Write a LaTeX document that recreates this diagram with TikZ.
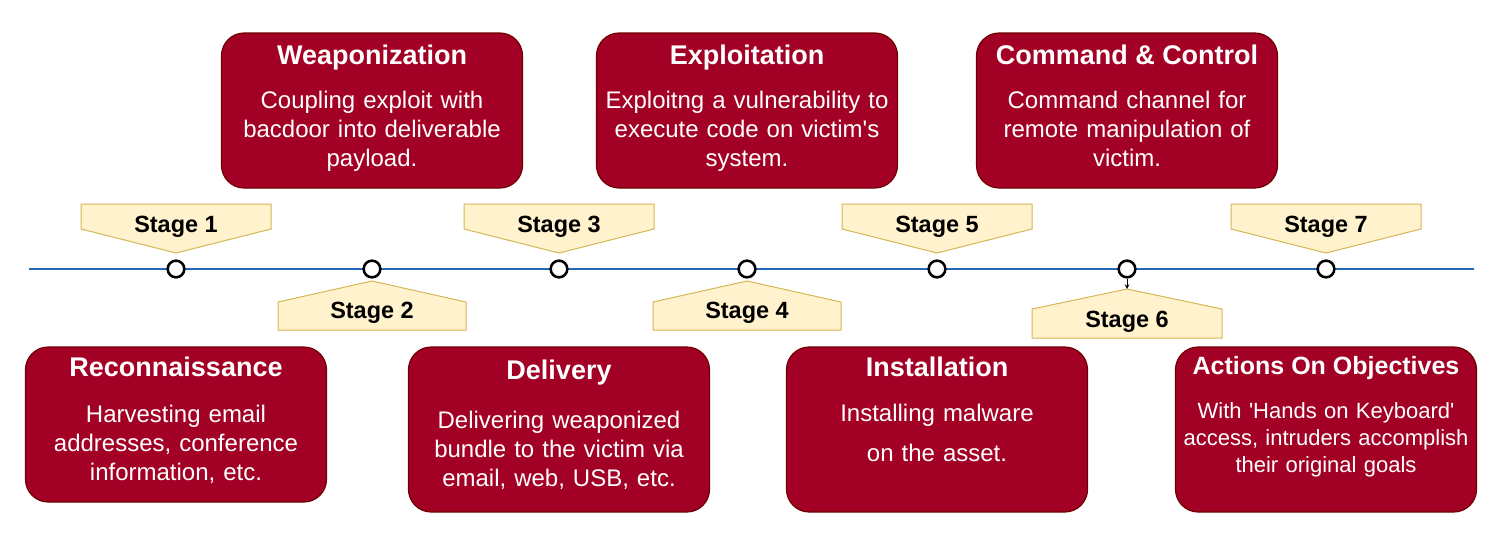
\documentclass[tikz,border=0pt]{standalone}
\usepackage{fontspec}
\setmainfont{Liberation Sans}
\usetikzlibrary{calc}

\definecolor{boxred}{HTML}{A20025}
\definecolor{boxedge}{HTML}{6F0000}
\definecolor{tagfill}{HTML}{FFF2CC}
\definecolor{tagedge}{HTML}{D6B656}
\definecolor{lineblue}{HTML}{2468B8}

\begin{document}
\begin{tikzpicture}[>=stealth, x=0.75pt, y=-0.75pt,
    dot/.style={circle, draw=black, line width=1.9pt, fill=white, minimum size=12.5pt, inner sep=0pt},
    tag/.style={fill=tagfill, draw=tagedge, line width=0.75pt},
    tagtext/.style={anchor=base, font=\bfseries\fontsize{17.6}{20}\selectfont},
    redbox/.style={fill=boxred, draw=boxedge, line width=0.9pt, rounded corners=17pt, minimum width=225.75pt, minimum height=116.25pt},
    boxtitle/.style={anchor=base, text=white, font=\bfseries\fontsize{20.25}{24}\selectfont},
    boxbody/.style={anchor=base, text=white, align=center, text width=217pt, font=\fontsize{18}{21.75}\selectfont}]

        \useasboundingbox (0,0) rectangle (1498,547);

        % Timeline
        \coordinate (lstart) at (29,269);
        \coordinate (lend) at (1474,269);
        \draw[lineblue, line width=1.9pt] (lstart) -- (lend);

        % Stage markers
        \foreach \i/\x in {1/176,2/372,3/559,4/747,5/937,6/1127,7/1326}
            \node[dot] (s\i) at (\x,269) {};

        % Stage tags above the line
        \foreach \i in {1,3,5,7} {
            \draw[tag] ($(s\i)+(0,-16)$) -- ++(-95,-24) -- ++(0,-25) -- ++(190,0) -- ++(0,25) -- cycle;
            \node[tagtext] (tag\i) at ($(s\i)+(0,-37)$) {Stage \i};
        }

        % Stage tags below the line
        \foreach \i in {2,4} {
            \draw[tag] ($(s\i)+(0,12)$) -- ++(-94,21) -- ++(0,28) -- ++(188,0) -- ++(0,-28) -- cycle;
            \node[tagtext] (tag\i) at ($(s\i)+(0,49.5)$) {Stage \i};
        }

        % Stage 6 hangs a bit lower
        \coordinate (tip6) at ($(s6)+(0,20)$);
        \draw[tag] (tip6) -- ++(-95,20) -- ++(0,29) -- ++(190,0) -- ++(0,-29) -- cycle;
        \node[tagtext] (tag6) at ($(s6)+(0,58.5)$) {Stage 6};
        \draw[->, semithick] (s6) -- (tip6);

        % Upper boxes
        \node[redbox] (box2) at ($(s2)+(0,-158.5)$) {};
        \node[boxtitle] at ($(box2.north)+(0,32)$) {Weaponization};
        \node[boxbody] at ($(box2.north)+(0,76)$) {Coupling exploit with\\bacdoor into deliverable\\payload.};

        \node[redbox] (box4) at ($(s4)+(0,-158.5)$) {};
        \node[boxtitle] at ($(box4.north)+(0,32)$) {Exploitation};
        \node[boxbody] at ($(box4.north)+(0,76)$) {Exploitng a vulnerability to\\execute code on victim\textquotesingle s\\system.};

        \node[redbox] (box6) at ($(s6)+(0,-158.5)$) {};
        \node[boxtitle] at ($(box6.north)+(0,32)$) {Command \& Control};
        \node[boxbody] at ($(box6.north)+(0,76)$) {Command channel for\\remote manipulation of\\victim.};

        % Lower boxes
        \node[redbox] (box1) at ($(s1)+(0,155.5)$) {};
        \node[boxtitle] at ($(box1.north)+(0,30)$) {Reconnaissance};
        \node[boxbody] at ($(box1.north)+(0,76)$) {Harvesting email\\addresses, conference\\information, etc.};

        \node[redbox, minimum height=123.75pt] (box3) at ($(s3)+(0,160.5)$) {};
        \node[boxtitle] at ($(box3.north)+(0,33)$) {Delivery};
        \node[boxbody] at ($(box3.north)+(0,82)$) {Delivering weaponized\\bundle to the victim via\\email, web, USB, etc.};

        \node[redbox, minimum height=123.75pt] (box5) at ($(s5)+(0,160.5)$) {};
        \node[boxtitle] at ($(box5.north)+(0,30)$) {Installation};
        \node[boxbody, font=\fontsize{18}{30}\selectfont] at ($(box5.north)+(0,75)$) {Installing malware\\on the asset.};

        \node[redbox, minimum height=123.75pt] (box7) at ($(s7)+(0,160.5)$) {};
        \node[boxtitle, font=\bfseries\fontsize{18.75}{22}\selectfont] at ($(box7.north)+(0,28)$) {Actions On Objectives};
        \node[boxbody, font=\fontsize{16.5}{20.25}\selectfont] at ($(box7.north)+(0,72)$) {With \textquotesingle Hands on Keyboard\textquotesingle\\access, intruders accomplish\\their original goals};

    \end{tikzpicture}
\end{document}
